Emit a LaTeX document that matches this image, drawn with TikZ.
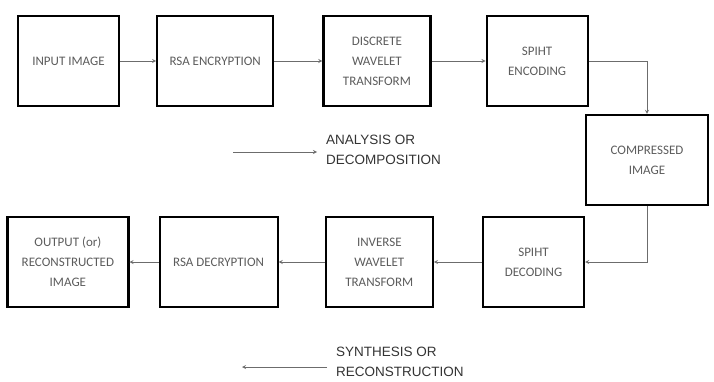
\documentclass[tikz,border=0pt]{standalone}
\usepackage{fontspec}
\setmainfont{Liberation Sans}
\newfontfamily\boxfont{Carlito}
\usepackage{tikz}
\usetikzlibrary{
    arrows.meta,
    positioning,
    calc
}
\definecolor{boxtext}{rgb}{0.36, 0.36, 0.36}
\definecolor{legendtext}{rgb}{0.2, 0.2, 0.2}
\tikzstyle{block} = [
    rectangle,
    draw=black,
    line width=2.2pt,
    minimum width=101pt,
    minimum height=90pt,
    align=center,
    text=boxtext,
    font=\boxfont\fontsize{13}{20}\selectfont
]
\tikzstyle{arrow} = [
    ->,
    >=stealth,
    line width=0.8pt,
    draw=gray!85!black
]
\tikzstyle{legend} = [
    anchor=west,
    align=left,
    inner sep=0pt,
    text=legendtext,
    font=\fontsize{13.5}{20}\selectfont
]

\begin{document}
\begin{tikzpicture}[x=1pt, y=-1pt]
    \useasboundingbox (0,0) rectangle (714,382);

    % Analysis row
    \node[block] (input) at (68.5,61) {INPUT IMAGE};
    \node[block, minimum width=116pt, right=36pt of input] (rsaenc) {RSA ENCRYPTION};
    \node[block, minimum width=107pt, right=48pt of rsaenc] (dwt) {DISCRETE\\WAVELET\\TRANSFORM};
    \node[block, right=54pt of dwt] (spihtenc) {SPIHT\\ENCODING};

    % Compressed
    \node[block, minimum width=122pt] (comp) at (647,160) {COMPRESSED\\IMAGE};

    % Synthesis row
    \node[block] (spihtdec) at (533.5,262) {SPIHT\\DECODING};
    \node[block, minimum width=107pt, left=48pt of spihtdec] (idwt) {INVERSE\\WAVELET\\TRANSFORM};
    \node[block, minimum width=118pt, left=46pt of idwt] (rsadec) {RSA DECRYPTION};
    \node[block, minimum width=121pt, left=29pt of rsadec] (output) {OUTPUT (or)\\RECONSTRUCTED\\IMAGE};

    % Legend
    \coordinate (anastart) at (233,152);
    \coordinate (anaend) at (317,152);
    \node[legend] (analysis) at (326,150) {ANALYSIS OR\\DECOMPOSITION};
    \coordinate (synstart) at (327,367);
    \coordinate (synend) at (242,367);
    \node[legend] (synthesis) at (336,362) {SYNTHESIS OR\\RECONSTRUCTION};

    % Arrows
    \draw[arrow] (input) -- (rsaenc);
    \draw[arrow] (rsaenc) -- (dwt);
    \draw[arrow] (dwt) -- (spihtenc);
    \draw[arrow] (spihtenc.east) -| (comp.north);
    \draw[arrow] (comp.south) |- (spihtdec.east);
    \draw[arrow] (spihtdec) -- (idwt);
    \draw[arrow] (idwt) -- (rsadec);
    \draw[arrow] (rsadec) -- (output);
    \draw[arrow] (anastart) -- (anaend);
    \draw[arrow] (synstart) -- (synend);
\end{tikzpicture}
\end{document}
